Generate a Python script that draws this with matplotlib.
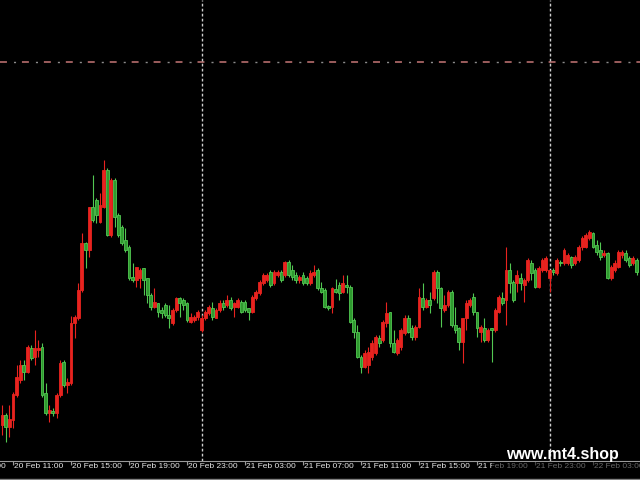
import pandas as pd
import matplotlib
matplotlib.use("Agg")
import matplotlib.pyplot as plt
from matplotlib.patches import Rectangle
from matplotlib.lines import Line2D
from matplotlib.transforms import blended_transform_factory

# M15 candles, 20 Feb 10:15 -> 22 Feb 06:00 (prices)
first_bar = "2024-02-20 10:15"

opens = [
    1.2875, 1.2885, 1.2873, 1.2880, 1.2905, 1.2920, 1.2935, 1.2928, 1.2952, 1.2943,
    1.2950, 1.2953, 1.2907, 1.2887, 1.2889, 1.2887, 1.2905, 1.2938, 1.2915, 1.2917,
    1.2977, 1.2982, 1.3010, 1.3057, 1.3050, 1.3093, 1.3100, 1.3078, 1.3093, 1.3130,
    1.3065, 1.3120, 1.3085, 1.3073, 1.3060, 1.3053, 1.3023, 1.3020, 1.3022, 1.3032,
    1.3022, 1.3005, 1.2993, 1.2997, 1.2990, 1.2995, 1.2985, 1.2977, 1.2990, 1.3002,
    1.3000, 1.2997, 1.2978, 1.2980, 1.2983, 1.2970, 1.2982, 1.2987, 1.2992, 1.2982,
    1.2990, 1.2997, 1.2995, 1.3000, 1.2993, 1.2993, 1.2998, 1.2998, 1.2992, 1.2988,
    1.3002, 1.3007, 1.3017, 1.3020, 1.3028, 1.3017, 1.3025, 1.3028, 1.3025, 1.3038,
    1.3030, 1.3025, 1.3020, 1.3025, 1.3022, 1.3017, 1.3025, 1.3030, 1.3012, 1.3010,
    1.2994, 1.2993, 1.3011, 1.3015, 1.3008, 1.3015, 1.3013, 1.2980, 1.2968, 1.2943,
    1.2933, 1.2935, 1.2943, 1.2947, 1.2962, 1.2960, 1.2977, 1.2988, 1.2957, 1.2947,
    1.2953, 1.2967, 1.2982, 1.2972, 1.2963, 1.2973, 1.3002, 1.2993, 1.3000, 1.3002,
    1.3028, 1.3012, 1.2990, 1.2995, 1.3008, 1.2975, 1.2972, 1.2958, 1.2982, 1.2995,
    1.3003, 1.2988, 1.2968, 1.2972, 1.2960, 1.2972, 1.2970, 1.2988, 1.3002, 1.3000,
    1.3030, 1.3018, 1.3017, 1.3022, 1.3015, 1.3020, 1.3037, 1.3030, 1.3013, 1.3030,
    1.3030, 1.3022, 1.3030, 1.3027, 1.3038, 1.3037, 1.3037, 1.3043, 1.3037, 1.3040,
    1.3053, 1.3053, 1.3062, 1.3067, 1.3055, 1.3050, 1.3045, 1.3047, 1.3022, 1.3030,
    1.3033, 1.3045, 1.3047, 1.3042, 1.3037, 1.3040,
]
highs = [
    1.2895, 1.2887, 1.2895, 1.2908, 1.2935, 1.2940, 1.2940, 1.2955, 1.2955, 1.2970,
    1.2960, 1.2957, 1.2917, 1.2895, 1.2892, 1.2907, 1.2940, 1.2940, 1.2922, 1.2984,
    1.2985, 1.3017, 1.3067, 1.3058, 1.3093, 1.3125, 1.3102, 1.3107, 1.3140, 1.3132,
    1.3122, 1.3122, 1.3087, 1.3075, 1.3072, 1.3055, 1.3037, 1.3033, 1.3032, 1.3032,
    1.3022, 1.3007, 1.3012, 1.2997, 1.2993, 1.2997, 1.2995, 1.2992, 1.3003, 1.3003,
    1.3002, 1.2998, 1.2987, 1.2985, 1.2990, 1.2985, 1.2990, 1.2995, 1.2998, 1.2992,
    1.3000, 1.3000, 1.3005, 1.3003, 1.2998, 1.3002, 1.3000, 1.3000, 1.2992, 1.3005,
    1.3010, 1.3020, 1.3027, 1.3027, 1.3030, 1.3030, 1.3030, 1.3030, 1.3039, 1.3040,
    1.3035, 1.3028, 1.3025, 1.3028, 1.3024, 1.3030, 1.3035, 1.3032, 1.3018, 1.3012,
    1.2995, 1.3013, 1.3021, 1.3018, 1.3025, 1.3025, 1.3015, 1.2982, 1.2975, 1.2945,
    1.2950, 1.2953, 1.2960, 1.2965, 1.2965, 1.2980, 1.2998, 1.2988, 1.2970, 1.2962,
    1.2972, 1.2985, 1.2985, 1.2975, 1.2975, 1.3012, 1.3017, 1.3002, 1.3008, 1.3030,
    1.3030, 1.3013, 1.3005, 1.3010, 1.3010, 1.2993, 1.2973, 1.2982, 1.3000, 1.3002,
    1.3007, 1.2988, 1.2975, 1.2982, 1.2972, 1.2972, 1.2992, 1.3005, 1.3008, 1.3053,
    1.3037, 1.3020, 1.3030, 1.3027, 1.3022, 1.3042, 1.3040, 1.3032, 1.3034, 1.3042,
    1.3044, 1.3030, 1.3032, 1.3042, 1.3040, 1.3052, 1.3047, 1.3044, 1.3045, 1.3055,
    1.3064, 1.3067, 1.3070, 1.3068, 1.3060, 1.3058, 1.3050, 1.3048, 1.3035, 1.3040,
    1.3050, 1.3050, 1.3050, 1.3044, 1.3044, 1.3042,
]
lows = [
    1.2865, 1.2858, 1.2863, 1.2872, 1.2903, 1.2917, 1.2920, 1.2927, 1.2940, 1.2935,
    1.2943, 1.2903, 1.2885, 1.2878, 1.2884, 1.2882, 1.2903, 1.2913, 1.2907, 1.2915,
    1.2962, 1.2980, 1.3008, 1.3032, 1.3043, 1.3078, 1.3077, 1.3077, 1.3092, 1.3064,
    1.3063, 1.3073, 1.3063, 1.3055, 1.3048, 1.3020, 1.3018, 1.3013, 1.3012, 1.3005,
    1.2997, 1.2990, 1.2992, 1.2983, 1.2982, 1.2983, 1.2972, 1.2975, 1.2988, 1.2983,
    1.2990, 1.2978, 1.2977, 1.2978, 1.2980, 1.2968, 1.2980, 1.2985, 1.2980, 1.2982,
    1.2988, 1.2990, 1.2993, 1.2990, 1.2983, 1.2992, 1.2987, 1.2988, 1.2980, 1.2987,
    1.3000, 1.3005, 1.3015, 1.3018, 1.3013, 1.3015, 1.3023, 1.3018, 1.3023, 1.3023,
    1.3020, 1.3017, 1.3017, 1.3015, 1.3015, 1.3015, 1.3023, 1.3010, 1.3007, 1.2992,
    1.2990, 1.2987, 1.3007, 1.3000, 1.3007, 1.3007, 1.2977, 1.2962, 1.2942, 1.2927,
    1.2932, 1.2927, 1.2940, 1.2945, 1.2953, 1.2958, 1.2973, 1.2953, 1.2947, 1.2945,
    1.2950, 1.2965, 1.2967, 1.2960, 1.2960, 1.2972, 1.2990, 1.2992, 1.2987, 1.3000,
    1.2997, 1.2973, 1.2988, 1.2993, 1.2973, 1.2967, 1.2950, 1.2937, 1.2970, 1.2993,
    1.2985, 1.2963, 1.2958, 1.2958, 1.2958, 1.2938, 1.2968, 1.2987, 1.2995, 1.2975,
    1.3007, 1.2998, 1.3008, 1.3010, 1.2998, 1.3018, 1.3020, 1.3012, 1.3012, 1.3028,
    1.3028, 1.3008, 1.3025, 1.3025, 1.3034, 1.3035, 1.3035, 1.3032, 1.3035, 1.3038,
    1.3050, 1.3052, 1.3060, 1.3052, 1.3045, 1.3040, 1.3043, 1.3021, 1.3020, 1.3028,
    1.3032, 1.3042, 1.3038, 1.3033, 1.3035, 1.3025,
]
closes = [
    1.2885, 1.2873, 1.2881, 1.2906, 1.2923, 1.2935, 1.2928, 1.2953, 1.2942, 1.2952,
    1.2952, 1.2905, 1.2887, 1.2890, 1.2887, 1.2905, 1.2937, 1.2915, 1.2918, 1.2977,
    1.2983, 1.3010, 1.3057, 1.3050, 1.3093, 1.3080, 1.3085, 1.3095, 1.3130, 1.3065,
    1.3120, 1.3083, 1.3065, 1.3057, 1.3050, 1.3022, 1.3020, 1.3033, 1.3030, 1.3020,
    1.3005, 1.2993, 1.2998, 1.2988, 1.2987, 1.2985, 1.2982, 1.2990, 1.3002, 1.2997,
    1.2995, 1.2980, 1.2983, 1.2983, 1.2988, 1.2982, 1.2988, 1.2993, 1.2983, 1.2990,
    1.2997, 1.2993, 1.3000, 1.2992, 1.2997, 1.3000, 1.2988, 1.2990, 1.2988, 1.3003,
    1.3008, 1.3018, 1.3025, 1.3025, 1.3015, 1.3028, 1.3028, 1.3020, 1.3038, 1.3025,
    1.3023, 1.3020, 1.3023, 1.3017, 1.3017, 1.3027, 1.3028, 1.3012, 1.3008, 1.2993,
    1.2992, 1.3012, 1.3008, 1.3007, 1.3017, 1.3013, 1.2978, 1.2968, 1.2943, 1.2933,
    1.2947, 1.2948, 1.2957, 1.2963, 1.2957, 1.2978, 1.2987, 1.2957, 1.2948, 1.2960,
    1.2970, 1.2982, 1.2968, 1.2963, 1.2973, 1.3003, 1.2993, 1.3000, 1.2995, 1.3028,
    1.3012, 1.2992, 1.2995, 1.3008, 1.2975, 1.2970, 1.2958, 1.2982, 1.2997, 1.3000,
    1.2988, 1.2972, 1.2973, 1.2960, 1.2970, 1.2970, 1.2990, 1.3003, 1.2997, 1.3030,
    1.3017, 1.3000, 1.3025, 1.3017, 1.3020, 1.3040, 1.3027, 1.3013, 1.3032, 1.3040,
    1.3042, 1.3030, 1.3028, 1.3040, 1.3037, 1.3050, 1.3045, 1.3035, 1.3043, 1.3053,
    1.3062, 1.3065, 1.3068, 1.3053, 1.3048, 1.3043, 1.3047, 1.3022, 1.3033, 1.3037,
    1.3048, 1.3048, 1.3040, 1.3035, 1.3042, 1.3028,
]

tick_labels = ["20 Feb 07:00", "20 Feb 11:00", "20 Feb 15:00", "20 Feb 19:00",
               "20 Feb 23:00", "21 Feb 03:00", "21 Feb 07:00", "21 Feb 11:00",
               "21 Feb 15:00", "21 Feb 19:00", "21 Feb 23:00", "22 Feb 03:00"]
day_separators = ["21 Feb 00:00", "22 Feb 00:00"]
level_price = 1.3238

up_color = "#e8231f"     # rising candles are red on this chart
down_face = "#2f9a2f"
down_edge = "#52c852"

t0 = pd.Timestamp(first_bar)
def bar_pos(label):
    t = pd.to_datetime("2024 " + label, format="%Y %d %b %H:%M")
    return (t - t0) / pd.Timedelta("15min")

plt.rcParams["lines.scale_dashes"] = False
fig = plt.figure(figsize=(6.4, 4.8), dpi=100, facecolor="black")
ax = fig.add_axes([0, 19 / 480, 1, 461 / 480], facecolor="black")

for i in range(len(opens)):
    o, h, l, c = opens[i], highs[i], lows[i], closes[i]
    up = c >= o
    col = up_color if up else down_edge
    ax.vlines(i, l, h, color=col, lw=0.8, zorder=2)
    bottom = min(o, c)
    height = max(abs(c - o), 0.0001)
    ax.bar(i, height, bottom=bottom, width=0.78,
           color=up_color if up else down_face,
           edgecolor=up_color if up else down_edge, linewidth=0.6, zorder=3)

# level line (grey dots + rose dashes)
ax.axhline(level_price, color="#8c8c8c", lw=1.0, linestyle=(6.1, (1.5, 14.3)), zorder=1)
ax.axhline(level_price, color="#a86464", lw=1.3, linestyle=(0, (5, 10.8)), zorder=1)

for d in day_separators:
    ax.axvline(bar_pos(d), color="#cfcfcf", lw=1.0, linestyle=(0, (2, 1.6)), zorder=1)

for s in ["top", "left", "right"]:
    ax.spines[s].set_visible(False)
ax.spines["bottom"].set_color("#9a9a9a")
ax.spines["bottom"].set_linewidth(0.8)
ax.set_yticks([])
tick_pos = [bar_pos(t) for t in tick_labels]
ax.set_xticks(tick_pos)
ax.tick_params(axis="x", direction="out", length=3, width=0.8, color="#9a9a9a",
               labelbottom=False)

# 3.625 px per bar, first bar at x=2.1px (set after ticks so they don't widen it)
ax.set_xlim(-2.125 / 3.625, (640 - 2.125) / 3.625)
ax.set_ylim(1.3300 - 0.0461, 1.3300)

trans = blended_transform_factory(ax.transData, fig.transFigure)
for p, lab in zip(tick_pos, tick_labels):
    ax.text(p + 0.35, 1 - 467 / 480, lab, transform=trans, ha="left", va="center",
            fontsize=6, color="#e6e6e6", family="Liberation Sans", clip_on=False)

# watermark with darkened strip behind it
fig.patches.append(Rectangle((492 / 640, 1 - 477 / 480), 148 / 640, 15 / 480,
                             transform=fig.transFigure, facecolor="black",
                             alpha=0.55, edgecolor="none", zorder=5))
fig.text(562 / 640, 1 - 459 / 480, "www.mt4.shop", ha="center", va="baseline",
         fontsize=11.5, fontweight="bold", color="white",
         family="Liberation Sans", zorder=6)

fig.add_artist(Line2D([0, 1], [1 - 478.5 / 480] * 2, transform=fig.transFigure,
                      color="#808080", lw=1.0))

fig.savefig("out.png", dpi=100, facecolor="black")
